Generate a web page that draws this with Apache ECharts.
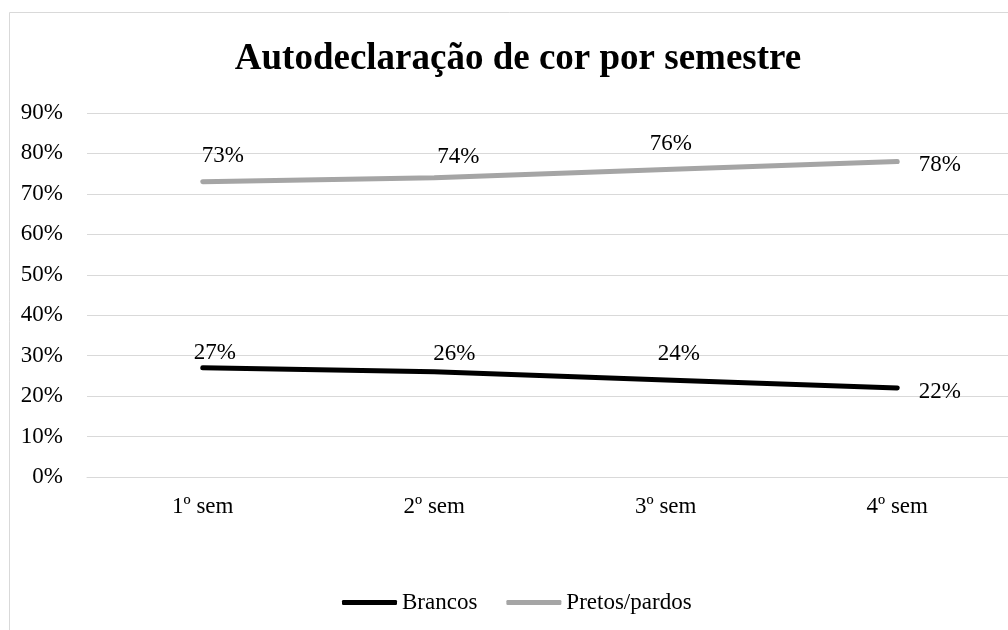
<!DOCTYPE html>
<html>
<head>
<meta charset="utf-8">
<script src="https://cdn.jsdelivr.net/npm/echarts@6/dist/echarts.min.js"></script>
<style>
  html, body { margin: 0; padding: 0; background: #fff; }
  #chart { width: 1008px; height: 630px; }
</style>
</head>
<body>
<div id="chart"></div>
<script>
// dados
const semestres = ['1º sem', '2º sem', '3º sem', '4º sem'];
const brancos = [27, 26, 24, 22];
const pretosPardos = [73, 74, 76, 78];
const yTicks = [0, 10, 20, 30, 40, 50, 60, 70, 80, 90];

// ajuste fino dos rótulos (px), como no original
const ajusteBrancos = [[-8, 9], [0, 6], [-7, -2], [0, 4]];
const ajustePretos = [[0, -2], [4, 3], [-15, -2], [0, 3]];

const fonte = '"Liberation Serif", "Times New Roman", serif';

// rótulo acima à direita, último ponto à direita
function rotulos(valores, ajuste) {
  return valores.map(function (v, i) {
    const ultimo = i === valores.length - 1;
    const a = ajuste[i];
    return {
      value: v,
      label: ultimo
        ? { position: 'right', distance: 21, offset: [a[0], a[1]] }
        : { position: 'top', distance: 5, offset: [20 + a[0], -7 + a[1]] }
    };
  });
}

const chart = echarts.init(document.getElementById('chart'));
const option = {
  animation: false,
  backgroundColor: '#fff',
  title: {
    text: 'Autodeclaração de cor por semestre',
    left: 513,
    top: 36,
    textAlign: 'center',
    textStyle: { fontFamily: fonte, fontSize: 37, fontWeight: 'bold', color: '#000' }
  },
  graphic: [{
    type: 'rect',
    shape: { x: 9.5, y: 12.5, width: 1100, height: 700 },
    style: { fill: 'none', stroke: '#d9d9d9', lineWidth: 1 },
    silent: true
  }],
  legend: {
    left: 337,
    top: 586,
    icon: 'roundRect',
    itemWidth: 55,
    itemHeight: 5,
    itemGap: 29,
    textStyle: { fontFamily: fonte, fontSize: 23, color: '#000' },
    data: ['Brancos', 'Pretos/pardos']
  },
  grid: { left: 87, width: 926, top: 113, bottom: 153, outerBoundsMode: 'none' },
  xAxis: {
    type: 'category',
    data: semestres,
    boundaryGap: true,
    axisLine: { lineStyle: { color: '#d9d9d9', width: 1 } },
    axisTick: { show: false },
    axisLabel: { fontFamily: fonte, fontSize: 23, color: '#000', margin: 18 }
  },
  yAxis: {
    type: 'value',
    min: yTicks[0],
    max: yTicks[yTicks.length - 1],
    interval: 10,
    axisLine: { show: false },
    axisTick: { show: false },
    splitLine: { lineStyle: { color: '#d9d9d9', width: 1 } },
    axisLabel: { fontFamily: fonte, fontSize: 23, color: '#000', margin: 24, formatter: '{value}%' }
  },
  series: [
    {
      name: 'Brancos',
      type: 'line',
      data: rotulos(brancos, ajusteBrancos),
      symbol: 'circle',
      symbolSize: 1,
      showSymbol: true,
      lineStyle: { color: '#000', width: 5, cap: 'round' },
      itemStyle: { color: '#000' },
      label: { show: true, fontFamily: fonte, fontSize: 23, color: '#000', formatter: '{c}%' }
    },
    {
      name: 'Pretos/pardos',
      type: 'line',
      data: rotulos(pretosPardos, ajustePretos),
      symbol: 'circle',
      symbolSize: 1,
      showSymbol: true,
      lineStyle: { color: '#a5a5a5', width: 5, cap: 'round' },
      itemStyle: { color: '#a5a5a5' },
      label: { show: true, fontFamily: fonte, fontSize: 23, color: '#000', formatter: '{c}%' }
    }
  ]
};
chart.setOption(option);
window.addEventListener('resize', function () { chart.resize(); });
</script>
</body>
</html>
